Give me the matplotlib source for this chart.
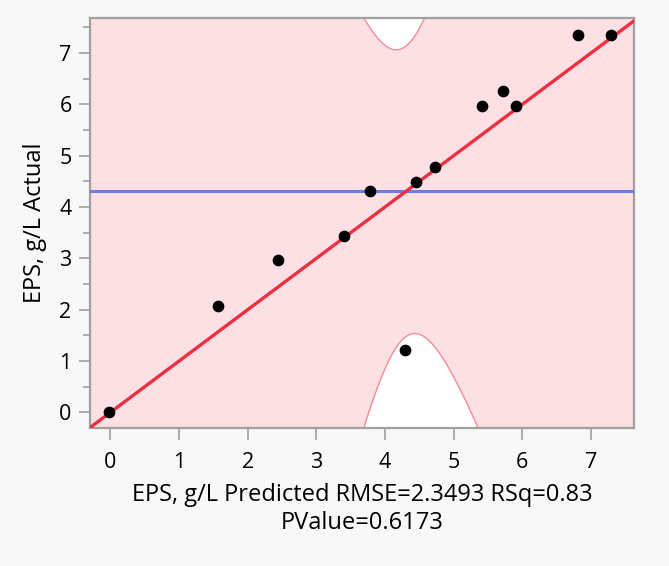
import numpy as np
import matplotlib.pyplot as plt

plt.rcParams['font.family'] = ['Open Sans', 'DejaVu Sans']

# actual by predicted values
predicted = [-0.02, 1.57, 2.45, 3.40, 3.78, 4.45, 4.73, 5.42, 5.72, 5.91, 6.81, 7.29, 4.29]
actual = [0.00, 2.07, 2.96, 3.43, 4.31, 4.49, 4.78, 5.96, 6.27, 5.96, 7.36, 7.36, 1.21]
mean_actual = 4.31

# confidence curves: y = x +/- sqrt(c0 + c1*(x - center)^2)
band_center = 4.30
band_c0 = 8.0
band_c1 = 21.5

xticks = [0, 1, 2, 3, 4, 5, 6, 7]
yticks = [0, 1, 2, 3, 4, 5, 6, 7]
lo, hi = -0.30, 7.65

fig = plt.figure(figsize=(6.69, 5.66), dpi=100, facecolor='#f8f8f8')
ax = fig.add_axes([0.134, 0.244, 0.814, 0.724])
ax.set_facecolor('white')

xs = np.linspace(lo, hi, 600)
half = np.sqrt(band_c0 + band_c1 * (xs - band_center) ** 2)
ax.fill_between(xs, xs - half, xs + half, color='#fde0e4', lw=0, zorder=1)
ax.plot(xs, xs + half, color='#f48c98', lw=1.0, zorder=2)
ax.plot(xs, xs - half, color='#f48c98', lw=1.0, zorder=2)

ax.axhline(mean_actual, color='#6b7fe3', lw=2.2, zorder=3)
ax.plot([lo, hi], [lo, hi], color='#ee2e41', lw=2.4, zorder=4)
ax.scatter(predicted, actual, s=55, color='black', zorder=5)

ax.set_xlim(lo, 7.63)
ax.set_ylim(lo, 7.68)
ax.set_xticks(xticks)
ax.set_yticks(yticks)
ax.set_yticks(np.arange(0.5, 7.6, 1.0), minor=True)
ax.tick_params(axis='both', colors='#a0a0a0', labelcolor='black', labelsize=15.5, width=1.2)
ax.tick_params(axis='x', length=8.5, pad=9)
ax.tick_params(axis='y', length=8, pad=5)
ax.tick_params(axis='y', which='minor', length=5, width=1.2, colors='#a0a0a0')
for s in ax.spines.values():
    s.set_color('#a0a0a0')
    s.set_linewidth(1.6)

ax.set_xlabel('EPS, g/L Predicted RMSE=2.3493 RSq=0.83\nPValue=0.6173', fontsize=17, labelpad=7,
              linespacing=1.2)
ax.set_ylabel('EPS, g/L Actual', fontsize=17, labelpad=9)

fig.savefig('out.png', dpi=100, facecolor=fig.get_facecolor())
